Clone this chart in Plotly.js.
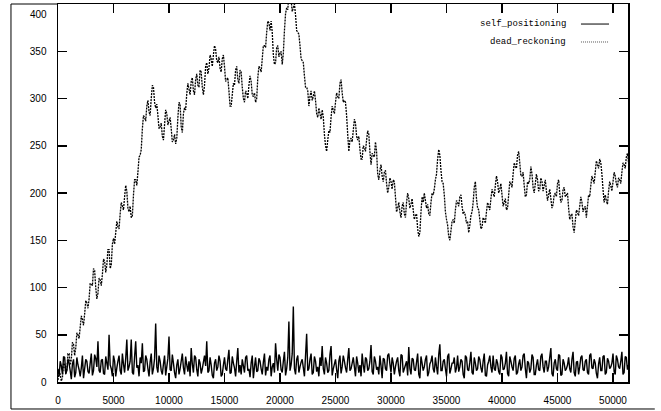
<!DOCTYPE html>
<html>
<head>
<meta charset="utf-8">
<script src="https://cdn.plot.ly/plotly-3.0.1.min.js"></script>
<style>html,body{margin:0;padding:0;background:#fff;}#chart{width:661px;height:411px;}</style>
</head>
<body>
<div id="chart"></div>
<script>
// x step between logged samples
const sampleStep = 100;

const seriesNames = ["self_positioning", "dead_reckoning"];

const selfPositioning = [
  14,6, 22,17, 8,27, 26,9, 12,24, 20,12, 3,19, 24,5, 10,26, 18,13,
  6,15, 28,4, 14,24, 22,11, 9,20, 30,7, 12,29, 25,16, 43,12, 10,23,
  24,9, 8,27, 20,13, 50,18, 14,6, 28,22, 6,15, 22,28, 12,8, 30,19,
  10,25, 45,12, 16,22, 45,10, 8,27, 43,15, 18,6, 26,20, 41,11, 12,28,
  24,14, 6,21, 30,8, 14,25, 62,16, 10,28, 22,12, 8,19, 28,7, 16,25,
  48,13, 12,29, 20,10, 4,18, 24,8, 14,22, 30,15, 8,27, 18,11, 22,6,
  36,19, 10,28, 26,13, 6,24, 20,9, 14,21, 28,17, 43,10, 12,26, 18,7,
  4,20, 24,12, 16,28, 22,6, 8,18, 26,14, 12,24, 34,9, 10,27, 20,15,
  6,22, 36,10, 18,8, 24,17, 10,26, 28,12, 14,5, 20,28, 4,16, 26,11,
  12,25, 22,14, 8,21, 30,7, 16,12, 24,28, 6,16, 20,10, 41,24, 12,29,
  26,13, 10,22, 32,7, 14,26, 64,12, 18,30, 80,14, 8,24, 28,10, 16,21,
  24,15, 6,28, 51,12, 14,24, 30,8, 10,27, 22,11, 16,6, 26,17, 38,14,
  8,26, 20,10, 12,29, 38,7, 14,19, 24,13, 4,22, 28,9, 16,28, 22,15,
  10,24, 36,12, 14,20, 26,16, 6,27, 20,10, 18,6, 30,18, 10,26, 24,12,
  14,22, 39,11, 8,27, 22,13, 16,8, 28,17, 4,25, 24,14, 12,28, 30,19,
  10,26, 20,8, 16,22, 26,12, 6,29, 28,10, 14,18, 22,7, 37,14, 8,25,
  24,13, 12,21, 30,8, 4,27, 20,12, 16,24, 28,6, 10,19, 22,28, 14,10,
  26,16, 8,29, 40,12, 12,22, 24,14, 6,27, 30,9, 14,20, 20,26, 10,15,
  28,11, 16,24, 22,8, 4,28, 26,13, 12,21, 32,10, 8,26, 20,12, 14,27,
  24,15, 10,22, 30,7, 6,18, 22,28, 16,10, 28,14, 12,24, 20,11, 8,29,
  26,13, 14,20, 32,9, 6,27, 22,16, 12,25, 28,8, 10,19, 24,12, 16,28,
  30,14, 4,22, 20,10, 14,29, 26,8, 8,18, 24,13, 12,27, 30,16, 10,22,
  22,11, 16,26, 36,9, 6,20, 24,14, 12,29, 28,7, 8,24, 20,12, 14,18,
  26,14, 10,24, 32,10, 6,21, 22,8, 16,26, 28,13, 12,22, 24,10, 8,28,
  30,15, 14,24, 20,9, 4,19, 26,12, 12,27, 28,8, 10,25, 22,14, 16,20,
  30,11, 8,28, 24,16, 14,22, 32,8, 10,27, 26,13, 18
];

const deadReckoning = [
  2,12, 8,1, 5,20, 18,8, 14,30, 30,18, 24,42, 40,28, 36,52, 50,46,
  58,70, 66,60, 72,86, 84,78, 88,104, 104,102, 120,118, 100,88, 94,110, 108,102,
  114,130, 128,116, 124,140, 140,120, 124,146, 152,146, 158,170, 164,162, 178,190, 186,182,
  196,208, 202,184, 180,186, 174,176, 198,214, 214,208, 222,238, 240,246, 268,282, 280,276,
  292,298, 286,282, 300,314, 312,296, 290,294, 282,268, 270,274, 260,256, 272,288, 284,272,
  276,280, 268,254, 256,262, 252,258, 280,296, 294,270, 264,284, 290,288, 305,316, 310,304,
  318,322, 308,304, 320,326, 314,312, 330,328, 312,304, 314,334, 338,326, 332,346, 342,334,
  346,356, 352,340, 338,344, 332,328, 342,346, 334,318, 320,322, 308,292, 292,304, 316,314,
  330,334, 320,316, 330,328, 312,300, 296,308, 306,300, 314,324, 318,304, 302,306, 296,300,
  322,334, 332,328, 342,356, 356,354, 370,382, 380,372, 382,370, 346,336, 338,354, 356,344,
  348,350, 336,348, 372,390, 396,394, 410,414, 404,392, 396,400, 388,372, 370,368, 356,342,
  340,338, 324,312, 312,308, 292,302, 308,298, 302,308, 298,284, 280,290, 284,278, 288,280,
  262,250, 244,256, 266,264, 280,292, 288,284, 296,306, 302,300, 316,320, 306,296, 298,296,
  282,262, 244,256, 258,254, 266,278, 274,260, 256,260, 246,236, 236,250, 248,244, 256,266,
  262,244, 230,242, 240,238, 254,244, 220,214, 224,230, 218,212, 222,224, 210,200, 206,216,
  212,204, 214,212, 196,180, 184,190, 180,174, 186,190, 178,174, 190,200, 194,184, 188,194,
  182,172, 176,178, 162,154, 158,180, 196,190, 200,192, 184,188, 178,176, 190,200, 198,204,
  214,220, 236,246, 240,224, 212,210, 198,180, 172,166, 154,150, 160,170, 172,168, 182,192,
  190,186, 196,198, 186,178, 180,176, 168,170, 158,166, 176,180, 190,206, 212,194, 184,182,
  172,162, 164,174, 172,168, 180,190, 186,182, 194,204, 200,196, 208,218, 212,200, 204,210,
  198,186, 190,194, 182,184, 198,212, 210,206, 220,232, 228,226, 240,244, 232,218, 218,222,
  208,196, 198,212, 210,214, 228,220, 206,200, 210,220, 214,202, 204,216, 212,202, 208,214,
  202,192, 198,204, 194,184, 188,198, 200,196, 210,214, 200,190, 192,204, 206,196, 198,200,
  184,172, 176,178, 164,158, 170,182, 180,176, 186,196, 190,180, 184,186, 174,186, 198,196,
  208,218, 214,210, 222,234, 230,226, 236,232, 220,204, 190,198, 192,188, 202,212, 208,202,
  212,222, 218,210, 206,216, 214,210, 222,232, 230,226, 238,242, 232
];

const xTickVals = [0, 5000, 10000, 15000, 20000, 25000, 30000, 35000, 40000, 45000, 50000];
const yTickVals = [0, 50, 100, 150, 200, 250, 300, 350];
const yTopLabel = "400";

const traces = [
  {
    name: seriesNames[0],
    y: selfPositioning, x0: 0, dx: sampleStep,
    type: "scatter", mode: "lines",
    line: {color: "#000", width: 1.4, simplify: false},
    showlegend: false
  },
  {
    name: seriesNames[1],
    y: deadReckoning, x0: 0, dx: sampleStep,
    type: "scatter", mode: "lines",
    line: {color: "#000", width: 1.3, dash: "2px,1px", simplify: false},
    showlegend: false
  }
];

const tickFont = {family: "Liberation Sans, Arial, sans-serif", size: 10, color: "#000"};
const legFont = {family: "Liberation Mono, DejaVu Sans Mono, monospace", size: 9, color: "#000"};

const layout = {
  width: 661, height: 411,
  margin: {l: 58, r: 33, t: 4, b: 29, pad: 0},
  paper_bgcolor: "#fff", plot_bgcolor: "#fff",
  showlegend: false,
  xaxis: {
    range: [0, 51350], tickvals: xTickVals, ticktext: xTickVals.map(String),
    showgrid: false, zeroline: false,
    showline: true, linecolor: "#000", linewidth: 1.5, mirror: "ticks",
    ticks: "inside", ticklen: 9, tickwidth: 1.5, tickcolor: "#000",
    tickfont: tickFont, ticklabelstandoff: 8
  },
  yaxis: {
    range: [0, 400], tickvals: yTickVals, ticktext: yTickVals.map(String),
    showgrid: false, zeroline: false,
    showline: true, linecolor: "#000", linewidth: 1.5, mirror: "ticks",
    ticks: "inside", ticklen: 9, tickwidth: 1.5, tickcolor: "#000",
    tickfont: tickFont, ticklabelstandoff: 8
  },
  annotations: [
    {text: yTopLabel, xref: "paper", yref: "y", x: 0, y: 400, xanchor: "right", yanchor: "middle",
     xshift: -9, yshift: -10, showarrow: false, font: tickFont},
    {text: seriesNames[0], xref: "paper", yref: "paper", x: 0.8947, y: 0.947, xanchor: "right", yanchor: "middle",
     showarrow: false, font: legFont},
    {text: seriesNames[1], xref: "paper", yref: "paper", x: 0.8947, y: 0.8995, xanchor: "right", yanchor: "middle",
     showarrow: false, font: legFont}
  ],
  shapes: [
    {type: "line", xref: "paper", yref: "paper", x0: 0.9175, x1: 0.9667, y0: 0.947, y1: 0.947,
     line: {color: "#000", width: 1}},
    {type: "line", xref: "paper", yref: "paper", x0: 0.9175, x1: 0.9667, y0: 0.8995, y1: 0.8995,
     line: {color: "#555", width: 1, dash: "1px,1px"}},
    {type: "line", xref: "paper", yref: "paper", x0: -0.0825, x1: -0.0825, y0: -0.0714, y1: 1,
     line: {color: "#000", width: 1}},
    {type: "line", xref: "paper", yref: "paper", x0: -0.0825, x1: 0, y0: 1, y1: 1,
     line: {color: "#000", width: 1}},
    {type: "line", xref: "paper", yref: "paper", x0: -0.0825, x1: 1.047, y0: -0.0714, y1: -0.0714,
     line: {color: "#000", width: 1}}
  ]
};

Plotly.newPlot("chart", traces, layout, {displayModeBar: false, staticPlot: true});
</script>
</body>
</html>
